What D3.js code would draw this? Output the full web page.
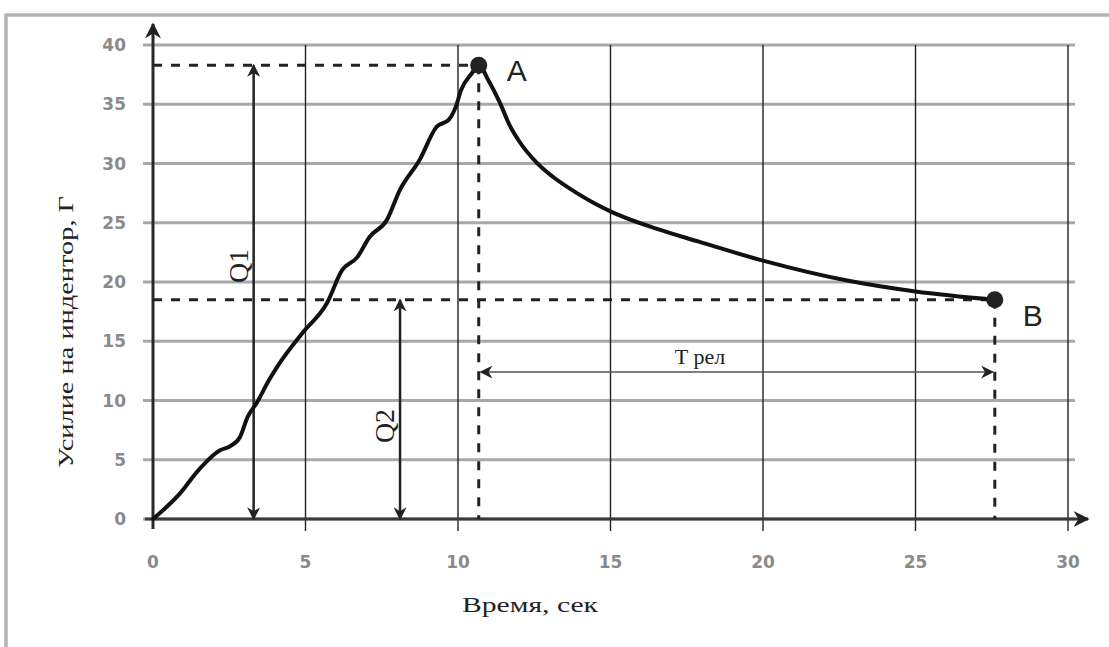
<!DOCTYPE html>
<html>
<head>
<meta charset="utf-8">
<script src="https://cdn.jsdelivr.net/npm/d3@7/dist/d3.min.js"></script>
<style>
  html, body { margin: 0; padding: 0; background: #fff; }
  svg { display: block; }
</style>
</head>
<body>
<svg id="chart" width="1109" height="647"></svg>
<script>
// Indentation force vs time: loading up to A, then relaxation down to B
const timeSec = [0, 0.9, 1.45, 2.2, 2.5, 2.85, 3.1, 3.4, 3.8, 4.06, 4.9, 5.7, 6.2, 6.7, 7.1, 7.66, 8.1, 8.74, 9.3, 9.7, 9.93, 10.1, 10.45, 10.68,
                 11.0, 11.36, 11.7, 12.0, 12.57, 13.1, 13.9, 14.5, 15.05, 16.5, 17.9, 20.0, 22.8, 25.0, 27.6];
const forceG  = [0, 2.2, 4.0, 5.8, 6.1, 6.9, 8.6, 9.8, 11.7, 12.8, 15.7, 18.2, 21.0, 22.1, 23.8, 25.2, 27.8, 30.3, 33.1, 33.7, 34.8, 36.2, 37.6, 38.3,
                 37.0, 35.2, 33.2, 31.9, 30.1, 28.9, 27.5, 26.6, 25.9, 24.5, 23.4, 21.8, 20.1, 19.2, 18.5];

const xTicks = [0, 5, 10, 15, 20, 25, 30];
const yTicks = [0, 5, 10, 15, 20, 25, 30, 35, 40];

// Key points and annotation positions (data units)
const pointNames = ["A", "B"];
const pointTime  = [10.68, 27.6];
const pointForce = [38.3, 18.5];
const q1Time = 3.3;
const q2Time = 8.1;
const tRelForce = 12.4;

const svg = d3.select("#chart");

const x = d3.scaleLinear().domain([0, 30]).range([153, 1068]);
const y = d3.scaleLinear().domain([0, 40]).range([519, 45]);

// outer frame
svg.append("path")
  .attr("d", "M6,660 L6,15 L1120,15")
  .attr("fill", "none").attr("stroke", "#b4b4b4").attr("stroke-width", 3.5);

const defs = svg.append("defs");
function marker(id, size) {
  defs.append("marker")
    .attr("id", id)
    .attr("viewBox", "0 0 10 10")
    .attr("refX", 9).attr("refY", 5)
    .attr("markerWidth", size).attr("markerHeight", size)
    .attr("markerUnits", "userSpaceOnUse")
    .attr("orient", "auto-start-reverse")
    .append("path").attr("d", "M0,0 L10,5 L0,10 L3,5 Z").attr("fill", "#222");
}
marker("arrowBig", 16);
marker("arrowMid", 13);

// horizontal grid (gray)
svg.append("g").selectAll("line").data(yTicks).join("line")
  .attr("x1", 143).attr("x2", 1075)
  .attr("y1", d => y(d)).attr("y2", d => y(d))
  .attr("stroke", "#a8a8a8").attr("stroke-width", 3);

// vertical grid (black, thin) with short ticks below the axis
svg.append("g").selectAll("line").data(xTicks.slice(1)).join("line")
  .attr("x1", d => x(d)).attr("x2", d => x(d))
  .attr("y1", y(40)).attr("y2", y(0) + 12)
  .attr("stroke", "#222").attr("stroke-width", 1.4);

// axes with arrowheads
svg.append("line")
  .attr("x1", x(0)).attr("x2", x(0))
  .attr("y1", y(0) + 10).attr("y2", 24)
  .attr("stroke", "#2a2a2a").attr("stroke-width", 3)
  .attr("marker-end", "url(#arrowBig)");
svg.append("line")
  .attr("x1", x(0) - 8).attr("x2", 1088)
  .attr("y1", y(0)).attr("y2", y(0))
  .attr("stroke", "#3a3a3a").attr("stroke-width", 3)
  .attr("marker-end", "url(#arrowBig)");

// tick labels
svg.append("g").selectAll("text").data(yTicks).join("text")
  .attr("x", 126).attr("y", d => y(d) + 6)
  .attr("text-anchor", "end")
  .attr("font-family", "DejaVu Sans, sans-serif").attr("font-weight", "bold")
  .attr("font-size", 17).attr("fill", "#8a8a8a")
  .text(d => d);
svg.append("g").selectAll("text").data(xTicks).join("text")
  .attr("x", d => x(d)).attr("y", 568)
  .attr("text-anchor", "middle")
  .attr("font-family", "DejaVu Sans, sans-serif").attr("font-weight", "bold")
  .attr("font-size", 17).attr("fill", "#8a8a8a")
  .text(d => d);

// axis titles
svg.append("text")
  .attr("x", 530).attr("y", 612)
  .attr("text-anchor", "middle")
  .attr("font-family", "Liberation Serif, serif").attr("font-size", 22).attr("fill", "#222")
  .attr("textLength", 136).attr("lengthAdjust", "spacingAndGlyphs")
  .text("Время, сек");
svg.append("text")
  .attr("transform", "translate(73,332) rotate(-90)")
  .attr("text-anchor", "middle")
  .attr("font-family", "Liberation Serif, serif").attr("font-size", 22).attr("fill", "#222")
  .attr("textLength", 272).attr("lengthAdjust", "spacingAndGlyphs")
  .text("Усилие на индентор, Г");

// dashed reference lines to A and B
const dash = { "stroke": "#222", "stroke-width": 3, "stroke-dasharray": "9,9" };
pointTime.forEach((t, i) => {
  const f = pointForce[i];
  const h = svg.append("line")
    .attr("x1", x(0)).attr("x2", x(t)).attr("y1", y(f)).attr("y2", y(f));
  const v = svg.append("line")
    .attr("x1", x(t)).attr("x2", x(t)).attr("y1", y(f)).attr("y2", y(0));
  [h, v].forEach(l => Object.entries(dash).forEach(([k, val]) => l.attr(k, val)));
});

// Q1 and Q2 double arrows
function vArrow(t, f) {
  svg.append("line")
    .attr("x1", x(t)).attr("x2", x(t))
    .attr("y1", y(0)).attr("y2", y(f))
    .attr("stroke", "#222").attr("stroke-width", 2.5)
    .attr("marker-start", "url(#arrowMid)").attr("marker-end", "url(#arrowMid)");
}
vArrow(q1Time, pointForce[0]);
vArrow(q2Time, pointForce[1]);

svg.append("text")
  .attr("transform", `translate(${x(q1Time) - 6},266) rotate(-90)`)
  .attr("text-anchor", "middle")
  .attr("font-family", "Liberation Serif, serif").attr("font-size", 28).attr("fill", "#222")
  .text("Q1");
svg.append("text")
  .attr("transform", `translate(${x(q2Time) - 6},426) rotate(-90)`)
  .attr("text-anchor", "middle")
  .attr("font-family", "Liberation Serif, serif").attr("font-size", 28).attr("fill", "#222")
  .text("Q2");

// relaxation time arrow
svg.append("line")
  .attr("x1", x(pointTime[0]) + 2).attr("x2", x(pointTime[1]) - 2)
  .attr("y1", y(tRelForce)).attr("y2", y(tRelForce))
  .attr("stroke", "#555").attr("stroke-width", 1.5)
  .attr("marker-start", "url(#arrowMid)").attr("marker-end", "url(#arrowMid)");
svg.append("text")
  .attr("x", 700).attr("y", y(tRelForce) - 8)
  .attr("text-anchor", "middle")
  .attr("font-family", "Liberation Serif, serif").attr("font-size", 22).attr("fill", "#222")
  .text("T рел");

// force curve
const line = d3.line()
  .x((d, i) => x(timeSec[i]))
  .y(d => y(d))
  .curve(d3.curveMonotoneX);
svg.append("path")
  .attr("d", line(forceG))
  .attr("fill", "none").attr("stroke", "#111").attr("stroke-width", 4)
  .attr("stroke-linejoin", "round").attr("stroke-linecap", "round");

// points A and B
svg.append("g").selectAll("circle").data(pointNames).join("circle")
  .attr("cx", (d, i) => x(pointTime[i]))
  .attr("cy", (d, i) => y(pointForce[i]))
  .attr("r", 8.5).attr("fill", "#222");
svg.append("g").selectAll("text").data(pointNames).join("text")
  .attr("x", (d, i) => x(pointTime[i]) + 28)
  .attr("y", (d, i) => y(pointForce[i]) + (i === 0 ? 16 : 26))
  .attr("font-family", "Liberation Sans, Arial, sans-serif").attr("font-size", 30).attr("fill", "#222")
  .text(d => d);
</script>
</body>
</html>
